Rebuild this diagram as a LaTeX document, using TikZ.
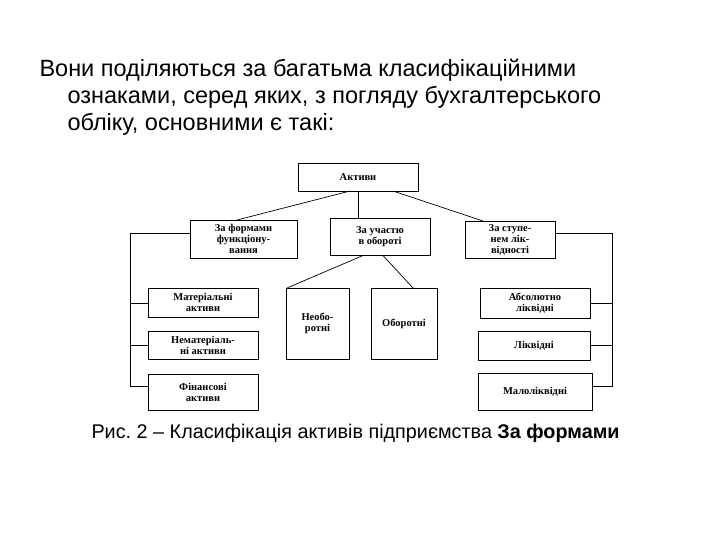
\documentclass[tikz,border=0pt]{standalone}
\usepackage{fontspec}
\setmainfont{Liberation Sans}
\newfontfamily\boxfont{Liberation Serif}
\begin{document}
\begin{tikzpicture}[x=1pt,y=-1pt,
  bx/.style={draw,line width=0.9pt,align=center,font=\boxfont\bfseries\fontsize{10.5}{11}\selectfont,inner sep=1pt},
  ln/.style={line width=0.7pt}]
\useasboundingbox (0,0) rectangle (720,540);
\node[anchor=west,font=\fontsize{23.5}{27}\selectfont] (h1) at (36,70) {Вони поділяються за багатьма класифікаційними};
\node[anchor=west,font=\fontsize{23.5}{27}\selectfont] (h2) at (64,97) {ознаками, серед яких, з погляду бухгалтерського};
\node[anchor=west,font=\fontsize{23.5}{27}\selectfont] (h3) at (64,124) {обліку, основними є такі:};
\node[bx,minimum width=120,minimum height=28] (a) at (358,177) {Активи};
\node[bx,minimum width=107,minimum height=38] (f) at (243.5,239) {За формами\\функціону-\\вання};
\node[bx,minimum width=100,minimum height=37] (u) at (380,237) {За участю\\в обороті};
\node[bx,minimum width=90,minimum height=37] (s) at (510,239.5) {За ступе-\\нем лік-\\відності};
\node[bx,minimum width=110,minimum height=29] (m1) at (203,302.5) {Матеріальні\\активи};
\node[bx,minimum width=110,minimum height=28] (m2) at (203,345) {Нематеріаль-\\ні активи};
\node[bx,minimum width=110,minimum height=36] (m3) at (203,392) {Фінансові\\активи};
\node[bx,minimum width=63,minimum height=71] (n1) at (317.5,323.5) {Необо-\\ротні};
\node[bx,minimum width=66,minimum height=71] (n2) at (404,323.5) {Оборотні};
\node[bx,minimum width=110,minimum height=30] (r1) at (535,303) {Абсолютно\\ліквідні};
\node[bx,minimum width=112,minimum height=29] (r2) at (534,345.5) {Ліквідні};
\node[bx,minimum width=114,minimum height=37] (r3) at (535,391.5) {Малоліквідні};
\draw[ln] (350,191) -- (237,220);
\draw[ln] (a.south) -- (a.south|-u.north);
\draw[ln] (393,191) -- (483,221);
\draw[ln] (363,255.5) -- (287,288);
\draw[ln] (383,255.5) -- (413,288);
\draw[ln] (f.west|-0,233) -- (130,233) -- (130,386) -- (m3.west|-0,386);
\draw[ln] (130,303) -- (m1.west|-0,303);
\draw[ln] (130,345) -- (m2.west|-0,345);
\draw[ln] (s.east|-0,233) -- (612,233) -- (612,386) -- (r3.east|-0,386);
\draw[ln] (612,303) -- (r1.east|-0,303);
\draw[ln] (612,345) -- (r2.east|-0,345);
\node[anchor=west,font=\fontsize{19.8}{23}\selectfont] (c) at (88,433) {Рис.~2 -- Класифікація активів підприємства \textbf{За формами}};
\end{tikzpicture}
\end{document}
